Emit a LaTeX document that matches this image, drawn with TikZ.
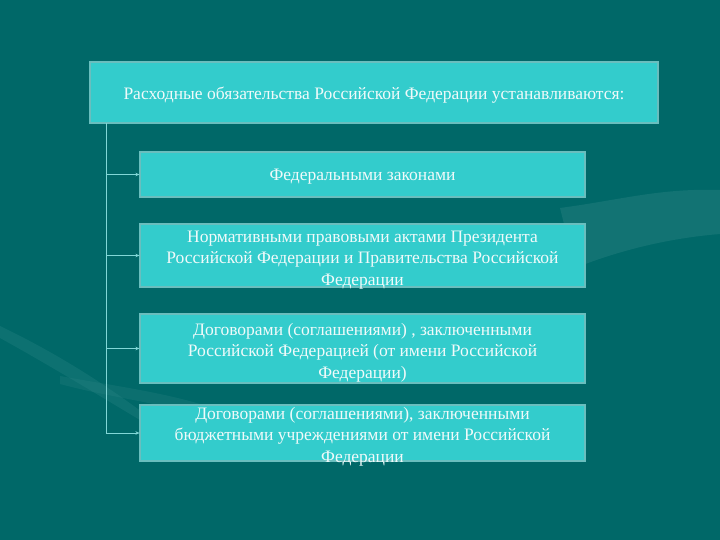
\documentclass[tikz,border=0pt]{standalone}
\usepackage{fontspec}
\setmainfont{Liberation Serif}
\usetikzlibrary{arrows.meta}
\definecolor{bgteal}{RGB}{0,104,104}
\definecolor{swoosh}{RGB}{40,130,130}
\definecolor{boxfill}{RGB}{51,204,204}
\definecolor{boxline}{RGB}{105,190,190}
\definecolor{linecol}{RGB}{130,215,215}
\definecolor{txtcol}{RGB}{240,250,250}
\tikzset{
  box/.style={draw=boxline, line width=1.2pt, fill=boxfill, inner sep=0pt},
  txt/.style={text=txtcol, align=center, font=\fontsize{17.5}{21.5}\selectfont, inner sep=0pt},
  trunkline/.style={draw=linecol, line width=0.8pt},
  arrowline/.style={draw=linecol, line width=0.8pt, -{Stealth[length=4pt,width=3.5pt]}}
}
\begin{document}
\begin{tikzpicture}[x=1pt,y=-1pt]
\fill[bgteal] (0,0) rectangle (720,540);
\useasboundingbox (0,0) rectangle (720,540);
% background swooshes
\fill[swoosh, opacity=0.45] (560,208) .. controls (620,200) and (660,188) .. (720,190) -- (720,234) .. controls (670,238) and (620,250) .. (575,268) -- cycle;
\fill[swoosh, opacity=0.35] (0,326) .. controls (50,350) and (100,380) .. (150,418) -- (140,420) .. controls (90,390) and (40,360) .. (0,338) -- cycle;
\fill[swoosh, opacity=0.3] (60,376) .. controls (110,385) and (160,392) .. (200,404) -- (190,412) .. controls (150,402) and (100,395) .. (60,384) -- cycle;
% boxes
\node[box, minimum width=568pt, minimum height=61pt] (top) at (374,92.5) {};
\node[txt] (ttop) at ([yshift=-3pt]top.center) {Расходные обязательства Российской Федерации устанавливаются:};
\node[box, minimum width=445pt, minimum height=45pt] (b2) at (362.5,174.5) {};
\node[txt] (t2) at ([yshift=-2pt]b2.center) {Федеральными законами};
\node[box, minimum width=445pt, minimum height=63pt] (b3) at (362.5,255.5) {};
\node[txt] (t3) at ([yshift=-4.5pt]b3.center) {Нормативными правовыми актами Президента\\Российской Федерации и Правительства Российской\\Федерации};
\node[box, minimum width=445pt, minimum height=69pt] (b4) at (362.5,348.5) {};
\node[txt] (t4) at ([yshift=-4pt]b4.center) {Договорами (соглашениями) , заключенными\\Российской Федерацией (от имени Российской\\Федерации)};
\node[box, minimum width=445pt, minimum height=56pt] (b5) at (362.5,433) {};
\node[txt] (t5) at ([yshift=-3.5pt]b5.center) {Договорами (соглашениями), заключенными\\бюджетными учреждениями от имени Российской\\Федерации};
% connectors
\coordinate (trunk) at (106,123);
\draw[trunkline] (trunk) -- (trunk |- b5.west);
\foreach \b in {b2,b3,b4,b5} {
  \draw[arrowline] (trunk |- \b.west) -- (\b.west);
}
\end{tikzpicture}
\end{document}
